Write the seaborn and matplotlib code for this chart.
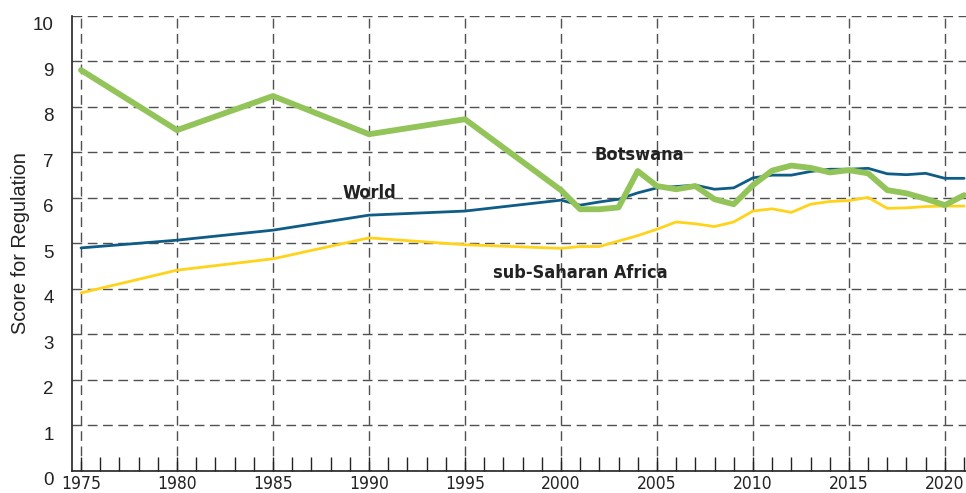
import matplotlib
matplotlib.use("Agg")
import matplotlib.pyplot as plt
import matplotlib.transforms as mtransforms
from matplotlib.ticker import MultipleLocator
import seaborn as sns
import pandas as pd

years = [1975, 1980, 1985, 1990, 1995, 2000] + list(range(2001, 2022))

botswana = [8.81, 7.49, 8.24, 7.40, 7.73, 6.17,
            5.75, 5.75, 5.79, 6.59, 6.26, 6.19, 6.26, 5.97, 5.86, 6.28,
            6.60, 6.71, 6.66, 6.56, 6.61, 6.54, 6.17, 6.10, 5.98, 5.84, 6.06]
world = [4.90, 5.07, 5.29, 5.62, 5.71, 5.95,
         5.84, 5.91, 5.97, 6.11, 6.22, 6.25, 6.28, 6.19, 6.22, 6.44,
         6.50, 6.50, 6.58, 6.63, 6.63, 6.65, 6.53, 6.51, 6.54, 6.43, 6.43]
ssa = [3.91, 4.41, 4.66, 5.12, 4.97, 4.89,
       4.93, 4.93, 5.05, 5.17, 5.31, 5.47, 5.43, 5.37, 5.47, 5.71,
       5.76, 5.68, 5.86, 5.92, 5.94, 6.01, 5.77, 5.78, 5.81, 5.82, 5.82]

series_names = ["World", "sub-Saharan Africa", "Botswana"]
colors = {"World": "#0f5c86", "sub-Saharan Africa": "#ffd31a", "Botswana": "#93c45a"}
widths = {"World": 2.0, "sub-Saharan Africa": 2.0, "Botswana": 4.2}

df = pd.concat([
    pd.DataFrame({"year": years, "score": world, "series": "World"}),
    pd.DataFrame({"year": years, "score": ssa, "series": "sub-Saharan Africa"}),
    pd.DataFrame({"year": years, "score": botswana, "series": "Botswana"}),
])

sns.set_style("white")
plt.rcParams['font.family'] = ['Liberation Sans', 'DejaVu Sans']
plt.rcParams['xtick.bottom'] = True

fig = plt.figure(figsize=(9.66, 4.93), dpi=100)
ax = fig.add_axes([72/966, 1 - 470.7/493, (966-72)/966, (470.7-16)/493])

for name in series_names:
    sub = df[df.series == name]
    sns.lineplot(data=sub, x="year", y="score", ax=ax, color=colors[name],
                 linewidth=widths[name], legend=False, zorder=3)

ax.set_xlim(1974.53, 2021.1)
ax.set_ylim(0, 10)
ax.xaxis.set_major_locator(MultipleLocator(5))
ax.xaxis.set_minor_locator(MultipleLocator(1))
ax.yaxis.set_major_locator(MultipleLocator(1))

ax.grid(True, which="major", color="#505050", linestyle=(0, (7, 4)), linewidth=1.0)
ax.set_axisbelow(True)
for s in ["top", "right"]:
    ax.spines[s].set_visible(False)
ax.spines["left"].set_color("#222222")
ax.spines["bottom"].set_color("#222222")
ax.spines["left"].set_linewidth(1.2)
ax.spines["bottom"].set_linewidth(1.2)

ax.tick_params(axis="x", which="both", bottom=True, direction="in", length=10, width=1.0,
               color="#222222", pad=3)
ax.tick_params(axis="y", which="both", left=False, length=0, pad=13, labelsize=13.5,
               labelcolor="#222222")
for lab in ax.get_xticklabels():
    lab.set_fontfamily(['DejaVu Sans', 'Liberation Sans'])
    lab.set_fontstretch('condensed')
    lab.set_fontsize(12.5)
    lab.set_color("#222222")

offset = mtransforms.ScaledTranslation(0, -8/100, fig.dpi_scale_trans)
for lab in ax.get_yticklabels():
    lab.set_transform(lab.get_transform() + offset)

ax.set_xlabel("")
ax.set_ylabel("Score for Regulation", fontsize=14.3, color="#222222", labelpad=2)

label_font = ['DejaVu Sans', 'Liberation Sans']
for txt, xx, yy in [("World", 1990, 6.1), ("Botswana", 2004.1, 6.95),
                    ("sub-Saharan Africa", 2001.0, 4.35)]:
    ax.text(xx, yy, txt, fontsize=13, fontweight="bold", color="#222222",
            ha="center", va="center", family=label_font, fontstretch="condensed")

fig.savefig("out.png", dpi=100)
